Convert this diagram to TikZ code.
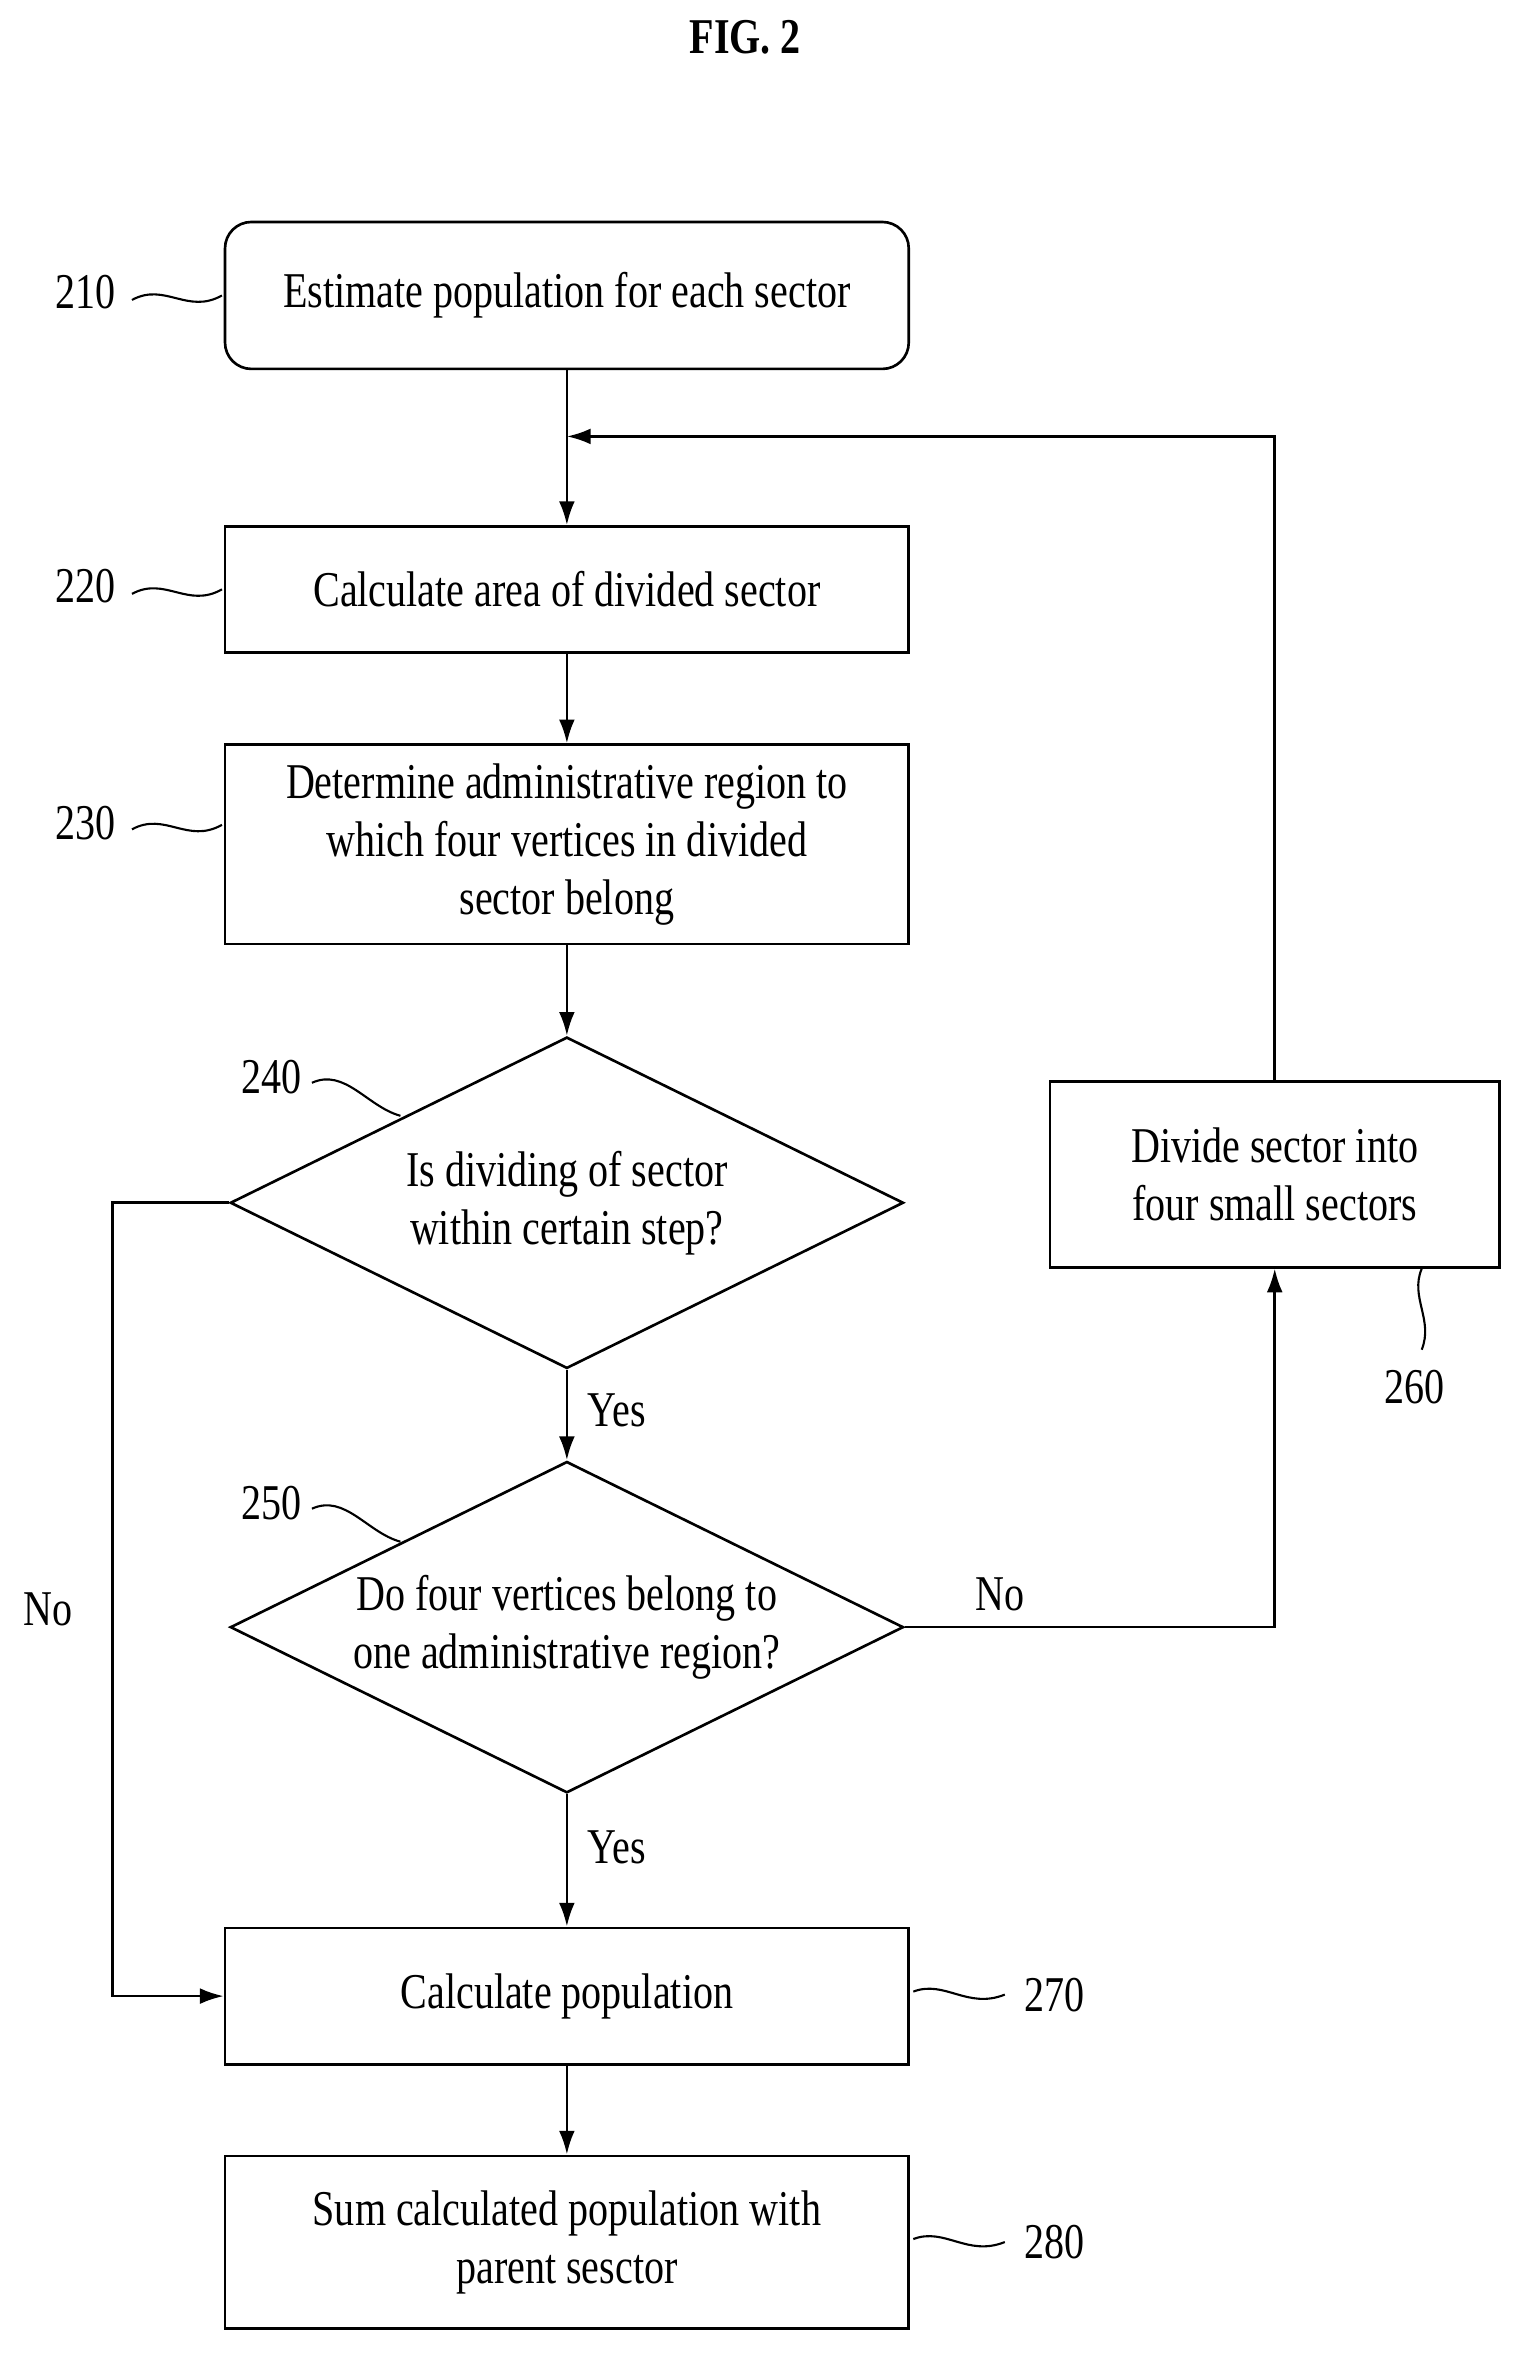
\documentclass[tikz,border=0pt]{standalone}
\usepackage{fontspec}
\setmainfont{Liberation Serif}[FakeStretch=0.8]
\usetikzlibrary{shapes.geometric,arrows.meta}
\begin{document}
\begin{tikzpicture}[x=0.02cm,y=-0.02cm,line width=1pt,
  box/.style={draw,minimum width=9.12cm,align=center,font=\fontsize{19}{22}\selectfont},
  dia/.style={draw,diamond,aspect=2.03,minimum width=8.98cm,minimum height=4.42cm,inner sep=0pt,align=center,font=\fontsize{19}{22}\selectfont},
  lbl/.style={font=\fontsize{19}{22}\selectfont},
  arr/.style={-{Latex[length=9pt,width=6pt]}},
  wave/.style={line width=0.8pt}]
\useasboundingbox (0,0) rectangle (1024,1583);
\node[font=\bfseries\fontsize{19}{22}\selectfont] (title) at (497,25) {FIG. 2};
\node[box,rounded corners=10pt,minimum height=1.96cm] (b210) at (378,197) {Estimate population for each sector};
\node[box,minimum height=1.68cm] (b220) at (378,393) {Calculate area of divided sector};
\node[box,minimum height=2.66cm] (b230) at (378,563) {Determine administrative region to\\which four vertices in divided\\sector belong};
\node[dia] (d240) at (378,802) {Is dividing of sector\\within certain step?};
\node[dia] (d250) at (378,1085) {Do four vertices belong to\\one administrative region?};
\node[box,minimum width=6cm,minimum height=2.48cm] (b260) at (850,783) {Divide sector into\\four small sectors};
\node[box,minimum height=1.82cm] (b270) at (378,1331) {Calculate population};
\node[box,minimum height=2.3cm] (b280) at (378,1495) {Sum calculated population with\\parent sesctor};
\coordinate (j) at (378,291);
\coordinate (c1) at (850,291);
\coordinate (c2) at (75,802);
\coordinate (c3) at (75,1331);
\coordinate (c4) at (850,1085);
\draw[arr] (b210) -- (b220);
\draw[arr] (b220) -- (b230);
\draw[arr] (b230) -- (d240);
\draw[arr] (d240) -- node[lbl,right=4pt,pos=0.45]{Yes} (d250);
\draw[arr] (d250) -- node[lbl,right=4pt,pos=0.4]{Yes} (b270);
\draw[arr] (b270) -- (b280);
\draw[arr] (b260.north) -- (c1) -- (j);
\draw[arr] (d240.west) -- (c2) -- (c3) -- (b270.west);
\draw[arr] (d250.east) -- (c4) -- (b260.south);
\node[lbl] (no1) at (32,1073) {No};
\node[lbl] (no2) at (667,1063) {No};
% reference labels
\node[lbl] (l210) at (57,195) {210};
\node[lbl] (l220) at (57,391) {220};
\node[lbl] (l230) at (57,549) {230};
\node[lbl] (l240) at (181,718) {240};
\node[lbl] (l250) at (181,1002) {250};
\node[lbl] (l260) at (943,925) {260};
\node[lbl] (l270) at (703,1330) {270};
\node[lbl] (l280) at (703,1495) {280};
\draw[wave] (88,200) .. controls (110,188) and (125,210) .. (148,197);
\draw[wave] (88,396) .. controls (110,384) and (125,406) .. (148,393);
\draw[wave] (88,553) .. controls (110,541) and (125,563) .. (148,550);
\draw[wave] (208,722) .. controls (230,712) and (245,738) .. (267,744);
\draw[wave] (208,1006) .. controls (230,996) and (245,1022) .. (267,1028);
\draw[wave] (948,900) .. controls (956,880) and (940,865) .. (948,846);
\draw[wave] (609,1328) .. controls (630,1320) and (645,1340) .. (670,1330);
\draw[wave] (609,1493) .. controls (630,1485) and (645,1505) .. (670,1495);
\end{tikzpicture}
\end{document}
